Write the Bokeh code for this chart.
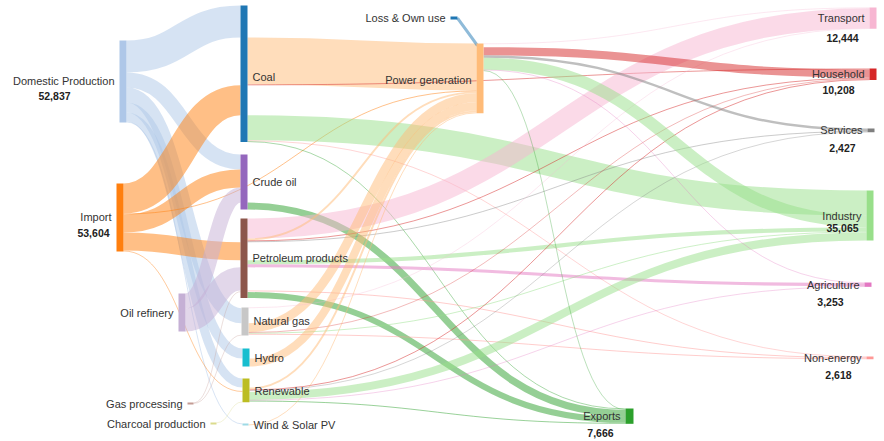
from bokeh.plotting import figure
from bokeh.models import Range1d, ColumnDataSource
from bokeh.palettes import Category20
from bokeh.core.properties import value
from bokeh.embed import file_html
from bokeh.resources import INLINE

# ---------------- data ----------------
node_names = ["Coal", "Domestic Production", "Import", "Power generation", "Exports",
              "Industry", "Household", "Non-energy", "Crude oil", "Oil refinery",
              "Petroleum products", "Gas processing", "Agriculture", "Transport",
              "Services", "Natural gas", "Renewable", "Charcoal production", "Hydro",
              "Wind & Solar PV", "Loss & Own use"]

total_nodes = ["Domestic Production", "Import", "Exports", "Transport", "Household",
               "Services", "Industry", "Agriculture", "Non-energy"]
total_labels = ["52,837", "53,604", "7,666", "12,444", "10,208",
                "2,427", "35,065", "3,253", "2,618"]

link_source = ["Domestic Production", "Domestic Production", "Domestic Production",
               "Domestic Production", "Domestic Production", "Domestic Production",
               "Import", "Import", "Import", "Import", "Import",
               "Oil refinery", "Oil refinery",
               "Gas processing", "Gas processing", "Charcoal production",
               "Coal", "Coal", "Coal", "Coal", "Coal",
               "Crude oil",
               "Petroleum products", "Petroleum products", "Petroleum products",
               "Petroleum products", "Petroleum products", "Petroleum products",
               "Petroleum products", "Petroleum products",
               "Natural gas", "Natural gas", "Natural gas", "Natural gas", "Natural gas",
               "Hydro",
               "Renewable", "Renewable", "Renewable", "Renewable", "Renewable", "Renewable",
               "Wind & Solar PV",
               "Power generation", "Power generation", "Power generation",
               "Power generation", "Power generation", "Power generation",
               "Power generation"]
link_target = ["Coal", "Crude oil", "Natural gas", "Hydro", "Renewable", "Wind & Solar PV",
               "Coal", "Power generation", "Crude oil", "Petroleum products", "Renewable",
               "Crude oil", "Petroleum products",
               "Natural gas", "Petroleum products", "Renewable",
               "Power generation", "Household", "Industry", "Non-energy", "Exports",
               "Exports",
               "Transport", "Power generation", "Household", "Services", "Industry",
               "Agriculture", "Non-energy", "Exports",
               "Power generation", "Industry", "Household", "Non-energy", "Transport",
               "Power generation",
               "Power generation", "Household", "Services", "Industry", "Agriculture",
               "Exports",
               "Power generation",
               "Loss & Own use", "Transport", "Household", "Services", "Industry",
               "Agriculture", "Exports"]
link_value = [19800, 9300, 9300, 6200, 5600, 600,
              18600, 600, 11200, 11200, 500,
              9300, 14300,
              400, 400, 400,
              29100, 600, 15500, 500, 500,
              4300,
              12400, 1200, 600, 500, 2500, 1900, 600, 3700,
              5600, 600, 400, 600, 400,
              5000,
              1200, 600, 400, 5000, 400, 600,
              600,
              1900, 400, 5000, 1500, 7400, 400, 400]

# ---------------- layout (positions / sizes / styles) ----------------
# name: (x left, y top, node width, label side, stacking mode)
layout = {
    "Coal": (240, 5, 7, "right", "joint"),
    "Domestic Production": (119, 40, 7, "left", "joint"),
    "Import": (116, 183, 7, "left", "joint"),
    "Power generation": (476, 43, 7, "left", "split"),
    "Exports": (625, 408, 8, "left", "joint"),
    "Industry": (866, 190, 7, "left", "joint"),
    "Household": (869, 68, 7, "left", "joint"),
    "Non-energy": (866, 356, 7, "left", "joint"),
    "Crude oil": (240, 154, 7, "right", "joint"),
    "Oil refinery": (178, 293, 7, "left", "joint"),
    "Petroleum products": (240, 218, 7, "right", "joint"),
    "Gas processing": (187, 402, 6, "left", "joint"),
    "Agriculture": (864, 282, 7, "left", "joint"),
    "Transport": (869, 7, 7, "left", "joint"),
    "Services": (867, 128, 7, "left", "joint"),
    "Natural gas": (241, 307, 7, "right", "joint"),
    "Renewable": (242, 378, 7, "right", "joint"),
    "Charcoal production": (210, 422, 6, "left", "joint"),
    "Hydro": (242, 348, 7, "right", "joint"),
    "Wind & Solar PV": (242, 423, 6, "right", "joint"),
    "Loss & Own use": (450, 16, 7, "left", "joint"),
}
# offsets of the bold total label: (dx from node left, dy from node centre)
total_offset = {
    "Domestic Production": (-65, 15), "Import": (-23, 16), "Exports": (-25, 17),
    "Transport": (-27, 20), "Household": (-31, 16), "Services": (-25, 18),
    "Industry": (-24, 12), "Agriculture": (-34, 17), "Non-energy": (-28, 17),
}
# small vertical nudges of the name labels (layout only)
name_dy = {"Coal": 3, "Power generation": 2, "Renewable": 1}

UNIT = 620.0          # value units per pixel
PLOT_W, PLOT_H = 884, 441
LABEL_GAP = 5
LINK_ALPHA = 0.5

palette = Category20[20]
color = {n: palette[i % 20] for i, n in enumerate(node_names)}

L = len(link_value)
has_in = set(link_target)

# node heights
height = {}
for n in node_names:
    vin = sum(link_value[i] for i in range(L) if link_target[i] == n)
    vout = sum(link_value[i] for i in range(L) if link_source[i] == n)
    mode = layout[n][4]
    h = (vin + vout) / UNIT if mode == "joint" else max(vin, vout) / UNIT
    height[n] = max(h, 2.0)

# link attachment positions
ys = [0.0] * L
yt = [0.0] * L
for n in node_names:
    x, top, w, side, mode = layout[n]
    ins = [i for i in range(L) if link_target[i] == n]
    outs = [i for i in range(L) if link_source[i] == n]
    if mode == "joint":
        items = [(layout[link_source[i]][1], i, "in") for i in ins] + \
                [(layout[link_target[i]][1], i, "out") for i in outs]
        items.sort(key=lambda t: t[0])
        y = top
        for _, i, kind in items:
            wv = link_value[i] / UNIT
            if kind == "in":
                yt[i] = y + wv / 2
            else:
                ys[i] = y + wv / 2
            y += wv
    else:
        y = top
        for i in sorted(ins, key=lambda i: layout[link_source[i]][1]):
            wv = link_value[i] / UNIT
            yt[i] = y + wv / 2
            y += wv
        y = top
        for i in sorted(outs, key=lambda i: layout[link_target[i]][1]):
            wv = link_value[i] / UNIT
            ys[i] = y + wv / 2
            y += wv

lk = dict(x0=[], y0=[], x1=[], y1=[], cx0=[], cy0=[], cx1=[], cy1=[], c=[], lw=[])
for i in range(L):
    s, t = link_source[i], link_target[i]
    sx, _, sw, _, _ = layout[s]
    tx, _, tw, _, _ = layout[t]
    if tx > sx:
        x0, x1 = sx + sw, tx
        cx = (x0 + x1) / 2
        c0, c1 = (cx, ys[i]), (cx, yt[i])
    else:
        x0, x1 = sx + 1, tx + tw
        c0 = (x0 + (x1 - x0) / 3, ys[i] + (yt[i] - ys[i]) / 3)
        c1 = (x0 + 2 * (x1 - x0) / 3, ys[i] + 2 * (yt[i] - ys[i]) / 3)
    lk["x0"].append(x0); lk["y0"].append(ys[i])
    lk["x1"].append(x1); lk["y1"].append(yt[i])
    lk["cx0"].append(c0[0]); lk["cy0"].append(c0[1])
    lk["cx1"].append(c1[0]); lk["cy1"].append(c1[1])
    lk["c"].append(color[s] if s not in has_in else color[t])
    lk["lw"].append(link_value[i] / UNIT)

p = figure(width=PLOT_W, height=PLOT_H, output_backend="svg", toolbar_location=None,
           x_range=Range1d(0, PLOT_W), y_range=Range1d(PLOT_H, 0), min_border=0)
p.xaxis.visible = False
p.yaxis.visible = False
p.xgrid.visible = False
p.ygrid.visible = False
p.outline_line_color = None
p.background_fill_color = "white"
p.border_fill_color = "white"

p.bezier(x0="x0", y0="y0", x1="x1", y1="y1", cx0="cx0", cy0="cy0", cx1="cx1", cy1="cy1",
         line_color="c", line_width="lw", line_alpha=LINK_ALPHA,
         source=ColumnDataSource(lk))

nd = dict(l=[], r=[], t=[], b=[], c=[])
for n in node_names:
    x, top, w, side, mode = layout[n]
    nd["l"].append(x); nd["r"].append(x + w)
    nd["t"].append(top); nd["b"].append(top + height[n])
    nd["c"].append(color[n])
p.quad(left="l", right="r", top="t", bottom="b", fill_color="c", line_color=None,
       source=ColumnDataSource(nd))

lab_l = dict(x=[], y=[], t=[])
lab_r = dict(x=[], y=[], t=[])
for n in node_names:
    x, top, w, side, mode = layout[n]
    cy = top + height[n] / 2 + name_dy.get(n, 0)
    if side == "left":
        lab_l["x"].append(x - LABEL_GAP); lab_l["y"].append(cy); lab_l["t"].append(n)
    else:
        lab_r["x"].append(x + w + LABEL_GAP); lab_r["y"].append(cy); lab_r["t"].append(n)

font = value("Liberation Sans")
p.text(x="x", y="y", text="t", text_align="right", text_baseline="middle",
       text_font=font, text_font_size="11px", text_color="#333333",
       source=ColumnDataSource(lab_l))
p.text(x="x", y="y", text="t", text_align="left", text_baseline="middle",
       text_font=font, text_font_size="11px", text_color="#333333",
       source=ColumnDataSource(lab_r))

tv = dict(x=[], y=[], t=[])
for n, lab in zip(total_nodes, total_labels):
    x, top, w, side, mode = layout[n]
    dx, dy = total_offset[n]
    tv["x"].append(x + dx); tv["y"].append(top + height[n] / 2 + dy); tv["t"].append(lab)
p.text(x="x", y="y", text="t", text_align="center", text_baseline="middle",
       text_font=font, text_font_size="10.5px", text_font_style="bold", text_color="#222222",
       source=ColumnDataSource(tv))

open("out.html", "w").write(file_html(p, INLINE))
